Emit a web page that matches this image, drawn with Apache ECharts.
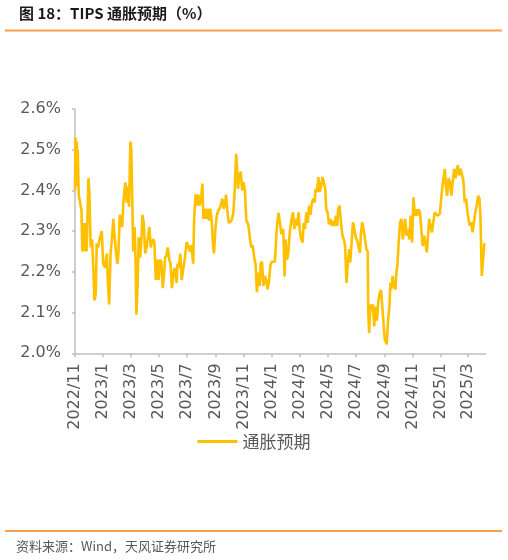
<!DOCTYPE html>
<html>
<head>
<meta charset="utf-8">
<script src="https://cdn.jsdelivr.net/npm/echarts@6/dist/echarts.min.js"></script>
<style>
html,body{margin:0;padding:0;background:#fff;}
#c{width:508px;height:560px;}
</style>
</head>
<body>
<div id="c"></div>
<script>
const titleText = '图 18：TIPS 通胀预期（%）';
const sourceText = '资料来源：Wind，天风证券研究所';
const seriesName = '通胀预期';
const axisStart = '2022-11-01';
const axisEnd = '2025-04-08';
const yTicks = [2.0, 2.1, 2.2, 2.3, 2.4, 2.5, 2.6];

const dates = [
'2022-11-01','2022-11-02','2022-11-03','2022-11-05','2022-11-06','2022-11-07','2022-11-09','2022-11-12','2022-11-15','2022-11-17',
'2022-11-19','2022-11-21','2022-11-23','2022-11-26','2022-11-28','2022-11-30','2022-12-02','2022-12-05','2022-12-08','2022-12-11',
'2022-12-13','2022-12-16','2022-12-18','2022-12-21','2022-12-25','2022-12-29','2023-01-01','2023-01-05','2023-01-09','2023-01-11',
'2023-01-14','2023-01-17','2023-01-20','2023-01-23','2023-01-26','2023-01-29','2023-02-01','2023-02-03','2023-02-06','2023-02-09',
'2023-02-11','2023-02-14','2023-02-16','2023-02-18','2023-02-21','2023-02-24','2023-02-26','2023-03-01','2023-03-03','2023-03-05',
'2023-03-07','2023-03-10','2023-03-12','2023-03-14','2023-03-17','2023-03-19','2023-03-22','2023-03-25','2023-03-27','2023-03-30',
'2023-04-02','2023-04-05','2023-04-08','2023-04-11','2023-04-14','2023-04-17','2023-04-20','2023-04-22','2023-04-25','2023-04-28',
'2023-05-01','2023-05-04','2023-05-07','2023-05-10','2023-05-13','2023-05-15','2023-05-18','2023-05-21','2023-05-24','2023-05-27',
'2023-05-30','2023-06-02','2023-06-05','2023-06-09','2023-06-11','2023-06-14','2023-06-17','2023-06-20','2023-06-23','2023-06-27',
'2023-07-01','2023-07-04','2023-07-08','2023-07-11','2023-07-15','2023-07-17','2023-07-20','2023-07-23','2023-07-26','2023-07-29',
'2023-08-01','2023-08-04','2023-08-06','2023-08-09','2023-08-12','2023-08-15','2023-08-18','2023-08-21','2023-08-24','2023-08-27',
'2023-08-29','2023-09-01','2023-09-04','2023-09-07','2023-09-10','2023-09-13','2023-09-16','2023-09-19','2023-09-22','2023-09-24',
'2023-09-27','2023-09-30','2023-10-03','2023-10-06','2023-10-10','2023-10-13','2023-10-16','2023-10-18','2023-10-20','2023-10-23',
'2023-10-26','2023-10-29','2023-11-01','2023-11-04','2023-11-07','2023-11-10','2023-11-12','2023-11-15','2023-11-18','2023-11-21',
'2023-11-24','2023-11-27','2023-11-30','2023-12-03','2023-12-06','2023-12-08','2023-12-11','2023-12-14','2023-12-17','2023-12-20',
'2023-12-23','2023-12-26','2023-12-29','2024-01-01','2024-01-04','2024-01-08','2024-01-11','2024-01-13','2024-01-16','2024-01-19',
'2024-01-22','2024-01-26','2024-01-29','2024-01-31','2024-02-03','2024-02-06','2024-02-09','2024-02-13','2024-02-16','2024-02-19',
'2024-02-22','2024-02-25','2024-02-28','2024-03-02','2024-03-05','2024-03-08','2024-03-10','2024-03-13','2024-03-16','2024-03-19',
'2024-03-22','2024-03-25','2024-03-28','2024-03-31','2024-04-03','2024-04-05','2024-04-08','2024-04-11','2024-04-14','2024-04-17',
'2024-04-20','2024-04-23','2024-04-26','2024-04-28','2024-05-01','2024-05-04','2024-05-07','2024-05-10','2024-05-13','2024-05-16',
'2024-05-19','2024-05-22','2024-05-24','2024-05-27','2024-05-30','2024-06-02','2024-06-05','2024-06-08','2024-06-11','2024-06-14',
'2024-06-17','2024-06-19','2024-06-22','2024-06-25','2024-06-28','2024-07-01','2024-07-04','2024-07-07','2024-07-10','2024-07-12',
'2024-07-15','2024-07-18','2024-07-21','2024-07-24','2024-07-27','2024-07-28','2024-07-30','2024-08-02','2024-08-05','2024-08-07',
'2024-08-10','2024-08-13','2024-08-16','2024-08-19','2024-08-22','2024-08-25','2024-08-28','2024-08-31','2024-09-02','2024-09-06',
'2024-09-09','2024-09-12','2024-09-14','2024-09-16','2024-09-19','2024-09-22','2024-09-25','2024-09-27','2024-09-29','2024-10-02',
'2024-10-05','2024-10-08','2024-10-11','2024-10-14','2024-10-16','2024-10-19','2024-10-22','2024-10-25','2024-10-28','2024-10-31',
'2024-11-03','2024-11-06','2024-11-09','2024-11-11','2024-11-14','2024-11-17','2024-11-20','2024-11-23','2024-11-26','2024-11-29',
'2024-12-02','2024-12-04','2024-12-07','2024-12-10','2024-12-13','2024-12-16','2024-12-19','2024-12-22','2024-12-25','2024-12-28',
'2024-12-30','2025-01-02','2025-01-04','2025-01-07','2025-01-10','2025-01-12','2025-01-15','2025-01-18','2025-01-21','2025-01-24',
'2025-01-27','2025-01-30','2025-02-02','2025-02-04','2025-02-07','2025-02-10','2025-02-13','2025-02-16','2025-02-19','2025-02-22',
'2025-02-25','2025-02-28','2025-03-02','2025-03-05','2025-03-08','2025-03-11','2025-03-14','2025-03-17','2025-03-20','2025-03-23',
'2025-03-26','2025-03-28','2025-03-31','2025-04-02','2025-04-05','2025-04-06'
];
const values = [
2.40,2.53,2.49,2.52,2.41,2.50,2.39,2.37,2.35,2.25,
2.32,2.25,2.32,2.25,2.33,2.43,2.40,2.26,2.28,2.20,
2.13,2.145,2.27,2.26,2.285,2.30,2.22,2.21,2.245,2.18,
2.12,2.245,2.28,2.33,2.285,2.245,2.22,2.245,2.34,2.34,
2.31,2.375,2.375,2.42,2.37,2.41,2.36,2.52,2.50,2.375,
2.25,2.31,2.235,2.095,2.185,2.285,2.235,2.285,2.34,2.32,
2.245,2.26,2.285,2.31,2.26,2.275,2.28,2.27,2.18,2.23,
2.18,2.23,2.225,2.16,2.195,2.235,2.24,2.26,2.23,2.22,
2.16,2.195,2.21,2.173,2.22,2.21,2.245,2.18,2.18,2.235,
2.273,2.265,2.25,2.265,2.22,2.33,2.39,2.363,2.39,2.363,
2.38,2.417,2.33,2.355,2.33,2.355,2.326,2.355,2.326,2.265,
2.245,2.305,2.338,2.35,2.355,2.365,2.38,2.355,2.365,2.39,
2.35,2.32,2.317,2.326,2.345,2.404,2.49,2.453,2.404,2.437,
2.446,2.40,2.42,2.40,2.326,2.32,2.31,2.28,2.26,2.265,
2.235,2.22,2.15,2.198,2.165,2.22,2.225,2.165,2.19,2.18,
2.157,2.175,2.215,2.225,2.225,2.225,2.29,2.32,2.345,2.342,
2.293,2.305,2.189,2.28,2.23,2.247,2.297,2.33,2.346,2.305,
2.33,2.313,2.346,2.30,2.28,2.272,2.32,2.305,2.346,2.32,
2.363,2.34,2.37,2.38,2.37,2.404,2.396,2.433,2.396,2.41,
2.433,2.43,2.404,2.355,2.346,2.317,2.33,2.313,2.325,2.313,
2.338,2.313,2.355,2.363,2.322,2.29,2.28,2.264,2.173,2.223,
2.256,2.223,2.272,2.322,2.305,2.285,2.277,2.28,2.247,2.29,
2.322,2.305,2.28,2.256,2.25,2.107,2.05,2.12,2.107,2.12,
2.066,2.115,2.08,2.13,2.148,2.155,2.107,2.06,2.033,2.022,
2.08,2.116,2.173,2.157,2.19,2.165,2.157,2.198,2.214,2.272,
2.322,2.33,2.28,2.313,2.33,2.289,2.305,2.28,2.338,2.272,
2.383,2.338,2.354,2.338,2.354,2.346,2.305,2.264,2.289,2.289,
2.248,2.28,2.33,2.313,2.297,2.322,2.346,2.35,2.338,2.342,
2.342,2.346,2.404,2.43,2.453,2.412,2.387,2.43,2.42,2.387,
2.42,2.453,2.43,2.445,2.462,2.437,2.453,2.45,2.425,2.371,
2.38,2.346,2.33,2.313,2.322,2.297,2.322,2.346,2.363,2.387,
2.38,2.338,2.19,2.186,2.264,2.27
];

// build a daily category axis so spacing is linear in time
const cats = [];
const t0 = Date.parse(axisStart + 'T00:00:00Z');
const t1 = Date.parse(axisEnd + 'T00:00:00Z');
for (let t = t0; t <= t1; t += 86400000) cats.push(new Date(t).toISOString().slice(0, 10));
const lookup = {};
dates.forEach((d, i) => { lookup[d] = values[i]; });
const seriesData = cats.map(c => (c in lookup ? lookup[c] : null));

const isLabelDay = (v) => {
  const p = v.split('-');
  return p[2] === '01' && (+p[1]) % 2 === 1;
};

const chart = echarts.init(document.getElementById('c'), null, {renderer: 'canvas'});
chart.setOption({
  animation: false,
  backgroundColor: '#ffffff',
  grid: {left: 75, right: 22.5, top: 109, bottom: 206.7, containLabel: false},
  legend: {
    data: [{name: seriesName, icon: 'rect'}],
    left: 'center',
    top: 428,
    itemWidth: 40,
    itemHeight: 3,
    itemGap: 10,
    itemStyle: {color: '#FFC000'},
    textStyle: {fontSize: 17, color: '#595959', fontFamily: 'Noto Sans CJK SC'}
  },
  xAxis: {
    type: 'category',
    data: cats,
    boundaryGap: false,
    axisLine: {show: true, lineStyle: {color: '#bfbfbf', width: 1.5}},
    axisTick: {show: true, length: 4, interval: (i, v) => isLabelDay(v), lineStyle: {color: '#bfbfbf', width: 1.5}},
    axisLabel: {
      interval: (i, v) => isLabelDay(v),
      rotate: 90,
      margin: 10,
      fontSize: 16,
      fontFamily: 'DejaVu Sans',
      color: '#595959',
      formatter: (v) => { const p = v.split('-'); return p[0] + '/' + (+p[1]); }
    },
    splitLine: {show: false}
  },
  yAxis: {
    type: 'value',
    min: yTicks[0],
    max: yTicks[yTicks.length - 1],
    interval: 0.1,
    axisLine: {show: true, lineStyle: {color: '#bfbfbf', width: 1.5}},
    axisTick: {show: true, length: 3, lineStyle: {color: '#bfbfbf', width: 1.5}},
    axisLabel: {
      margin: 14,
      fontSize: 16,
      fontFamily: 'DejaVu Sans',
      color: '#595959',
      formatter: (v) => v.toFixed(1) + '%'
    },
    splitLine: {show: false}
  },
  series: [{
    name: seriesName,
    type: 'line',
    data: seriesData,
    connectNulls: true,
    symbol: 'none',
    showSymbol: false,
    lineStyle: {color: '#FFC000', width: 2.6},
    itemStyle: {color: '#FFC000'}
  }],
  graphic: [
    {type: 'text', left: 19, top: 6, style: {text: titleText, font: 'bold 15px "Noto Sans CJK SC"', fill: '#1a1a1a'}},
    {type: 'rect', shape: {x: 5, y: 29.5, width: 497, height: 2}, style: {fill: '#F5A04A'}},
    {type: 'rect', shape: {x: 5, y: 530, width: 497, height: 2}, style: {fill: '#F5A04A'}},
    {type: 'text', left: 16, top: 540, style: {text: sourceText, font: '13px "Noto Sans CJK SC"', fill: '#595959'}}
  ]
});
</script>
</body>
</html>
